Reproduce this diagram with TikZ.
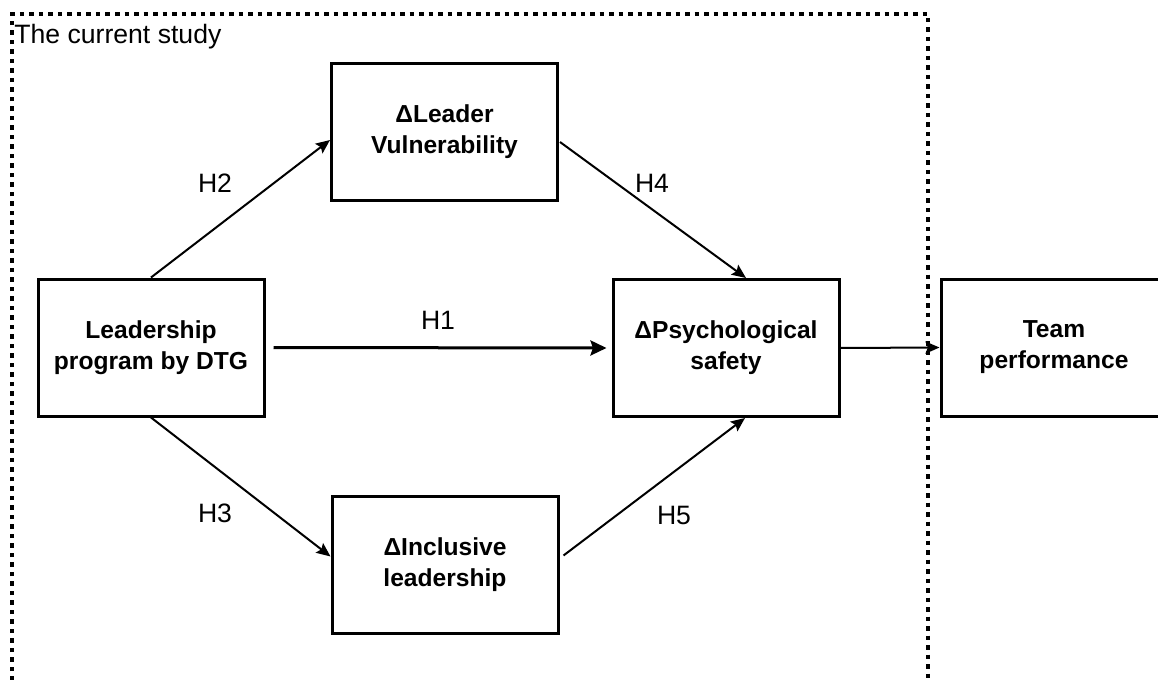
\documentclass[tikz,border=0pt]{standalone}
\usepackage{fontspec}
\setmainfont{Liberation Sans}
\usetikzlibrary{arrows.meta,positioning,calc}
\tikzset{
  construct/.style={draw=black,line width=1.5pt,fill=white,align=center,
    minimum width=113pt,minimum height=68.5pt,inner sep=0pt,
    font=\fontsize{12.3}{15.5}\selectfont\bfseries},
  link/.style={-{Stealth[length=7pt,width=6pt,inset=1.2pt]},line width=1pt},
  mainlink/.style={-{Stealth[length=8pt,width=7.5pt,inset=1.2pt]},line width=1.5pt},
  hyp/.style={inner sep=0pt,font=\fontsize{13.3}{15}\selectfont},
  studyframe/.style={line width=2.25pt,dash pattern=on 2.25pt off 2.5pt}
}

\begin{document}
\begin{tikzpicture}[x=0.5pt,y=-0.5pt]
  \clip (0,0) rectangle (1158,680);

  % Dotted frame around the current study (open at the bottom)
  \coordinate (frameBL) at (12,690);
  \coordinate (frameTL) at (12,14);
  \coordinate (frameTR) at (928,14);
  \coordinate (frameBR) at (928,690);
  \draw[studyframe] (frameBL) -- (frameTL) -- (frameTR) -- (frameBR);
  \node[hyp,anchor=west] (studyLabel) at (14,37) {The current study};

  \node[construct] (program) at (151,347.5) {Leadership\\program by DTG};
  \node[construct] (vulner) at (444.5,132) {ΔLeader\\Vulnerability};
  \node[construct] (incl) at (445,564.5) {ΔInclusive\\leadership};
  \node[construct] (psych) at (726,348) {ΔPsychological\\safety};
  \node[construct] (team) at (1054,347.5) {Team\\performance};

  \draw[link] (program.north) -- ($(vulner.west)+(0,8)$);
  \draw[link] (program.south) -- ($(incl.west)+(0,-8)$);
  \draw[mainlink] ($(program.east)+(8,0)$) -- ($(psych.west)+(-5,0)$);
  \draw[link] ($(vulner.east)+(1,10)$) -- ($(psych.north)+(20,0)$);
  \draw[link] ($(incl.east)+(4,-9)$) -- ($(psych.south)+(19,0)$);
  \draw[link] (psych.east) -- (team.west);

  \node[hyp] (h2) at (215,183) {H2};
  \node[hyp] (h3) at (215,513) {H3};
  \node[hyp] (h1) at (438,320) {H1};
  \node[hyp] (h4) at (652,183) {H4};
  \node[hyp] (h5) at (674,515) {H5};
\end{tikzpicture}
\end{document}
